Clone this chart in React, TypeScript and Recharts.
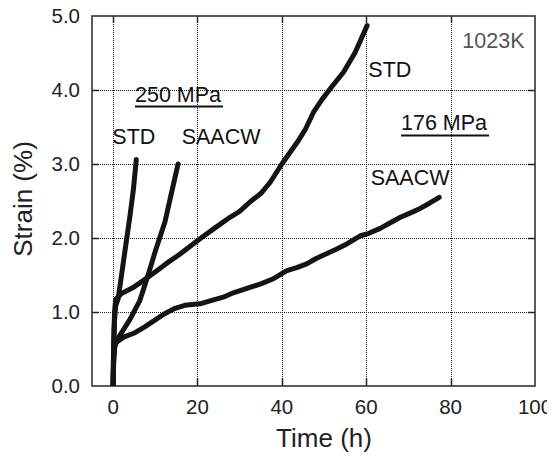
import React from 'react';
import { LineChart, Line, XAxis, YAxis, Customized } from 'recharts';

// ---- data (time in h, strain in %) ----
const std250Time = [0, 0.1, 0.3, 0.6, 1.2, 2, 3, 4, 4.8, 5.5];
const std250Strain = [0, 0.45, 0.85, 1.08, 1.18, 1.5, 1.9, 2.3, 2.65, 3.06];

const saacw250Time = [0, 0.1, 0.3, 0.7, 2, 4, 6.3, 8.3, 10, 12.3, 13.8, 15.4];
const saacw250Strain = [0, 0.3, 0.5, 0.6, 0.72, 0.9, 1.15, 1.5, 1.82, 2.22, 2.6, 3.0];

const std176Time = [0, 0.15, 0.35, 0.6, 2, 4.75, 9.5, 12.5, 15.8, 20.6, 24, 27.7, 30, 32.5, 35, 37.2, 40, 43.6, 45.5, 47.5, 49.5, 51.5, 54.6, 57.4, 60.2];
const std176Strain = [0, 0.6, 1.0, 1.17, 1.25, 1.33, 1.52, 1.65, 1.78, 1.99, 2.13, 2.28, 2.36, 2.49, 2.6, 2.75, 3.0, 3.29, 3.46, 3.7, 3.87, 4.02, 4.24, 4.51, 4.87];

const saacw176Time = [0, 0.15, 0.4, 1, 2.5, 5.2, 7.5, 9.9, 12, 14.7, 17, 20.6, 23, 26.1, 28.5, 31.7, 35, 38, 40, 41.2, 43.5, 45.9, 48, 50.7, 53, 55.4, 58.6, 60.5, 63.3, 65.5, 68.1, 70.5, 72.8, 75, 77.3];
const saacw176Strain = [0, 0.35, 0.55, 0.6, 0.66, 0.72, 0.8, 0.89, 0.97, 1.05, 1.09, 1.11, 1.15, 1.2, 1.26, 1.32, 1.38, 1.45, 1.52, 1.56, 1.6, 1.65, 1.72, 1.79, 1.85, 1.92, 2.03, 2.06, 2.13, 2.2, 2.28, 2.34, 2.4, 2.47, 2.55];

const xTicks = [0, 20, 40, 60, 80, 100];
const yTicks = [0, 1, 2, 3, 4, 5];
const xGrid = [0, 20, 40, 60, 80];
const yGrid = [1, 2, 3, 4];
const xDomain = [-5, 100];
const yDomain = [0, 5];

const toPoints = (t: number[], s: number[]) => t.map((v, i) => ({ t: v, s: s[i] }));

const std250 = toPoints(std250Time, std250Strain);
const saacw250 = toPoints(saacw250Time, saacw250Strain);
const std176 = toPoints(std176Time, std176Strain);
const saacw176 = toPoints(saacw176Time, saacw176Strain);

// ---- layout (page coordinates; wrapper cancels the body margin) ----
const W = 555;
const H = 456;
const PLOT = { left: 92, top: 16, right: 535, bottom: 386 };
const FONT = '"Liberation Sans", Arial, Helvetica, sans-serif';
const TICK_LEN = 7;

const sx = (v: number) =>
  Math.round(PLOT.left + ((v - xDomain[0]) / (xDomain[1] - xDomain[0])) * (PLOT.right - PLOT.left)) + 0.5;
const sy = (v: number) =>
  Math.round(PLOT.bottom - ((v - yDomain[0]) / (yDomain[1] - yDomain[0])) * (PLOT.bottom - PLOT.top)) + 0.5;

const GRID_STROKE = '#1a1a1a';
const TICK_STROKE = '#222222';

const YTick = (props: any) => {
  const { x, y, payload } = props;
  const v = payload.value as number;
  return (
    <text x={x} y={y} dy="0.36em" textAnchor="end" fontSize={20.5} fill="#222" fontFamily={FONT}>
      {v.toFixed(1)}
    </text>
  );
};

const XTick = (props: any) => {
  const { x, y, payload } = props;
  const v = payload.value as number;
  return (
    <text x={x} y={y} dy="0.71em" textAnchor="middle" fontSize={20.5} fill="#222" fontFamily={FONT}>
      {v}
    </text>
  );
};

// Background grid + inward ticks, drawn in a plain SVG beneath the chart
const GridBackground = () => {
  const items: React.ReactNode[] = [];
  xGrid.forEach((v) => {
    const x = sx(v);
    items.push(
      <line key={'gx' + v} x1={x} x2={x} y1={PLOT.top} y2={PLOT.bottom} stroke={GRID_STROKE} strokeWidth={1} strokeDasharray="1 1" />
    );
    items.push(<line key={'tb' + v} x1={x} x2={x} y1={PLOT.bottom - TICK_LEN} y2={PLOT.bottom} stroke={TICK_STROKE} strokeWidth={1.5} />);
    items.push(<line key={'tt' + v} x1={x} x2={x} y1={PLOT.top} y2={PLOT.top + TICK_LEN} stroke={TICK_STROKE} strokeWidth={1.5} />);
  });
  yGrid.forEach((v) => {
    const y = sy(v);
    items.push(
      <line key={'gy' + v} x1={PLOT.left} x2={PLOT.right} y1={y} y2={y} stroke={GRID_STROKE} strokeWidth={1} strokeDasharray="1 1" />
    );
    items.push(<line key={'tl' + v} x1={PLOT.left} x2={PLOT.left + TICK_LEN} y1={y} y2={y} stroke={TICK_STROKE} strokeWidth={1.5} />);
    items.push(<line key={'tr' + v} x1={PLOT.right - TICK_LEN} x2={PLOT.right} y1={y} y2={y} stroke={TICK_STROKE} strokeWidth={1.5} />);
  });
  return (
    <svg width={W} height={H} style={{ position: 'absolute', left: 0, top: 0 }}>
      {items}
    </svg>
  );
};

const Overlay = () => (
  <g fontFamily={FONT}>
    <rect
      x={PLOT.left}
      y={PLOT.top}
      width={PLOT.right - PLOT.left}
      height={PLOT.bottom - PLOT.top}
      fill="none"
      stroke="#333"
      strokeWidth={1.6}
    />
    <text x={462.3} y={48.3} fontSize={21.5} fill="#555">1023K</text>
    <text x={368.3} y={77.3} fontSize={21.5} fill="#111">STD</text>
    <text x={401} y={130} fontSize={21.5} fill="#111">176 MPa</text>
    <line x1={401} x2={489} y1={135.5} y2={135.5} stroke="#111" strokeWidth={1.8} />
    <text x={370.7} y={185} fontSize={21.5} fill="#111">SAACW</text>
    <text x={135} y={101.7} fontSize={21.5} fill="#111">250 MPa</text>
    <line x1={135} x2={223} y1={106.5} y2={106.5} stroke="#111" strokeWidth={1.8} />
    <text x={112.3} y={144} fontSize={21.5} fill="#111">STD</text>
    <text x={181.7} y={144} fontSize={21.5} fill="#111">SAACW</text>
    <text x={324} y={446.7} fontSize={26} fill="#222" textAnchor="middle">Time (h)</text>
    <text
      x={31.5}
      y={199}
      fontSize={26}
      fill="#222"
      textAnchor="middle"
      transform="rotate(-90, 31.5, 199)"
    >
      Strain (%)
    </text>
  </g>
);

const lineProps = {
  dataKey: 's',
  stroke: '#141414',
  strokeWidth: 5,
  dot: false,
  activeDot: false,
  type: 'linear' as const,
  isAnimationActive: false,
  strokeLinecap: 'round' as const,
  strokeLinejoin: 'round' as const,
};

export default function App() {
  return (
    <div style={{ margin: '-8px 0 0 -8px', width: W, height: H, position: 'relative' }}>
      <GridBackground />
      <div style={{ position: 'absolute', left: 0, top: 0 }}>
        <LineChart
          width={W}
          height={H}
          margin={{ top: PLOT.top, left: PLOT.left - 60, right: W - PLOT.right, bottom: H - PLOT.bottom - 40 }}
        >
          <XAxis
            type="number"
            dataKey="t"
            domain={xDomain}
            ticks={xTicks}
            allowDataOverflow
            axisLine={false}
            tickLine={false}
            tickSize={0}
            tickMargin={13}
            height={40}
            tick={<XTick />}
            interval={0}
          />
          <YAxis
            type="number"
            dataKey="s"
            domain={yDomain}
            ticks={yTicks}
            allowDataOverflow
            axisLine={false}
            tickLine={false}
            tickSize={0}
            tickMargin={12}
            width={60}
            tick={<YTick />}
            interval={0}
          />
          <Customized component={Overlay} />
          <Line data={std250} {...lineProps} />
          <Line data={saacw250} {...lineProps} />
          <Line data={std176} {...lineProps} />
          <Line data={saacw176} {...lineProps} />
        </LineChart>
      </div>
    </div>
  );
}
